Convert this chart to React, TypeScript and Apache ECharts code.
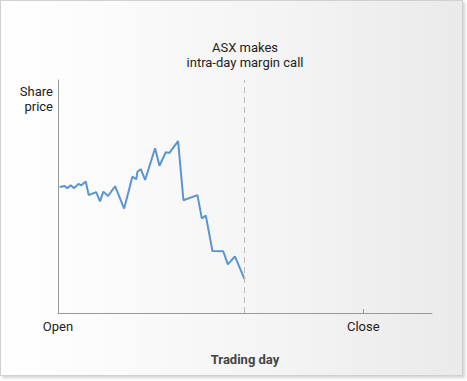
import React, { useEffect, useRef } from "react";
import * as echarts from "echarts";

// minutes after open
const minutes = [2, 8, 11, 15, 19, 24, 27.5, 32.7, 36.2, 45, 49.6, 53.5, 59, 67.3, 78, 87.7, 92.4, 93.6, 97.6, 102.7, 114.5, 119.6, 127.1, 131.4, 141.6, 147.9, 164.4, 169.6, 174.3, 182.1, 194.8, 200.3, 208.6, 220];
const prices = [54.1, 54.5, 53.5, 54.8, 53.6, 55.4, 54.8, 56.4, 50.6, 51.9, 47.9, 52.1, 50.2, 54.4, 44.8, 58.5, 57.4, 60.6, 61.7, 57.1, 70.7, 63.2, 69.0, 68.7, 73.8, 48.4, 50.6, 40.6, 41.8, 26.6, 26.5, 20.9, 24.3, 14.5];
const tickValues = [0, 360];
const tickLabels = ["Open", "Close"];
const marginCallTime = 220;
const annotation = "ASX makes\nintra-day margin call";
const yName = "Share\nprice";
const xName = "Trading day";

const FONT = "Roboto, 'Liberation Sans', Arial, sans-serif";

export default function App() {
  const ref = useRef<HTMLDivElement>(null);
  useEffect(() => {
    document.body.style.margin = "0";
    const chart = echarts.init(ref.current!, null, { renderer: "svg" });
    chart.setOption({
      animation: false,
      textStyle: { fontFamily: FONT },
      grid: { left: 58, right: 35, top: 80, bottom: 68 },
      xAxis: {
        type: "value",
        min: 0,
        max: 441,
        splitLine: { show: false },
        axisLine: { show: true, lineStyle: { color: "#999", width: 1 } },
        axisTick: { show: true, inside: true, length: 4, customValues: [tickValues[1]], lineStyle: { color: "#999" } },
        axisLabel: {
          customValues: tickValues,
          formatter: (v: number) => tickLabels[tickValues.indexOf(v)] ?? "",
          color: "#222",
          fontSize: 13,
          margin: 7,
          fontFamily: FONT,
        },
        name: xName,
        nameLocation: "middle",
        nameGap: 40,
        nameTextStyle: { color: "#444", fontSize: 13, fontWeight: "bold", fontFamily: FONT },
      },
      yAxis: {
        type: "value",
        min: 0,
        max: 100,
        splitLine: { show: false },
        axisLine: { show: true, lineStyle: { color: "#999", width: 1 } },
        axisTick: { show: false },
        axisLabel: { show: false },
      },
      graphic: [
        {
          type: "text",
          x: 53,
          y: 84,
          style: {
            text: yName,
            textAlign: "right",
            textVerticalAlign: "top",
            fill: "#222",
            font: `13px ${FONT}`,
            lineHeight: 15,
          },
        },
        {
          type: "text",
          x: 245,
          y: 40,
          style: {
            text: annotation,
            textAlign: "center",
            textVerticalAlign: "top",
            fill: "#222",
            font: `13px ${FONT}`,
            lineHeight: 15,
          },
        },
      ],
      series: [
        {
          type: "line",
          data: minutes.map((m, i) => [m, prices[i]]),
          symbol: "none",
          lineStyle: { color: "#5b95cf", width: 2 },
          markLine: {
            silent: true,
            symbol: "none",
            label: { show: false },
            lineStyle: { color: "#bbb", type: [6, 4], width: 1 },
            data: [{ xAxis: marginCallTime }],
          },
        },
      ],
    });
    return () => chart.dispose();
  }, []);
  return (
    <div style={{ position: "absolute", left: 0, top: 0, width: 467, height: 381 }}>
      <div
        style={{
          position: "absolute",
          left: 0,
          top: 0,
          width: 461,
          height: 374,
          border: "1px solid #d0d0d0",
          boxShadow: "2px 2px 3px rgba(0,0,0,0.18)",
          background: "linear-gradient(to right, #ffffff 0%, #f4f4f4 60%, #eaeaea 100%)",
        }}
      />
      <div ref={ref} style={{ position: "absolute", left: 0, top: 0, width: 467, height: 381 }} />
    </div>
  );
}
